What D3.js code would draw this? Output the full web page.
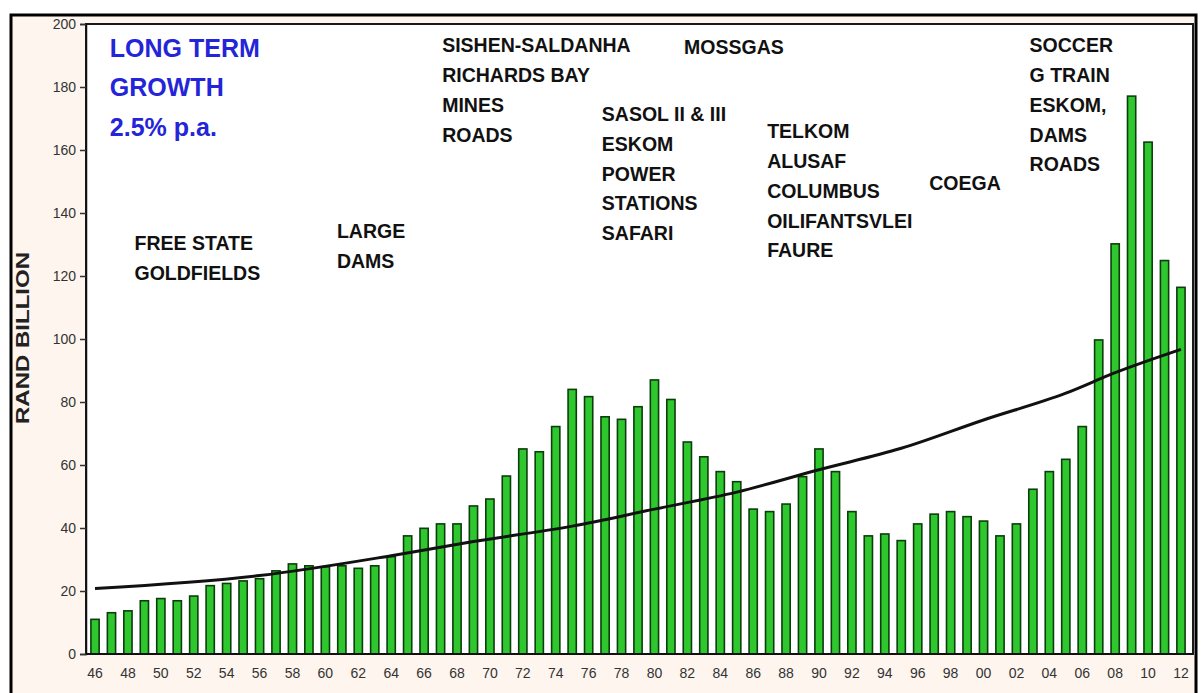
<!DOCTYPE html>
<html>
<head>
<meta charset="utf-8">
<script src="https://cdn.jsdelivr.net/npm/d3@7"></script>
<style>
  html, body { margin: 0; padding: 0; background: #fff; }
  svg { display: block; }
  text { font-family: 'Liberation Sans', Arial, sans-serif; }
</style>
</head>
<body>
<svg id="chart" width="1201" height="693"></svg>
<script>
// categories: one bar per year, 1946 - 2012
const years = [1946, 1947, 1948, 1949, 1950, 1951, 1952, 1953, 1954, 1955, 1956, 1957, 1958, 1959,
  1960, 1961, 1962, 1963, 1964, 1965, 1966, 1967, 1968, 1969, 1970, 1971, 1972, 1973, 1974, 1975,
  1976, 1977, 1978, 1979, 1980, 1981, 1982, 1983, 1984, 1985, 1986, 1987, 1988, 1989, 1990, 1991,
  1992, 1993, 1994, 1995, 1996, 1997, 1998, 1999, 2000, 2001, 2002, 2003, 2004, 2005, 2006, 2007,
  2008, 2009, 2010, 2011, 2012]

// investment, rand billion
const investment = [11.0, 13.1, 13.7, 16.9, 17.6, 16.9, 18.4, 21.7, 22.4, 23.2, 23.9, 26.4, 28.6, 28.0,
  27.7, 28.0, 27.2, 28.0, 30.9, 37.5, 39.9, 41.3, 41.3, 47.0, 49.2, 56.5, 65.1, 64.2, 72.2, 84.0,
  81.7, 75.3, 74.5, 78.5, 87.0, 80.8, 67.3, 62.6, 57.9, 54.7, 46.0, 45.2, 47.6, 56.3, 65.1, 57.9,
  45.2, 37.5, 38.1, 36.0, 41.3, 44.4, 45.2, 43.6, 42.2, 37.5, 41.3, 52.3, 57.9, 61.8, 72.2, 99.7,
  130.2, 177.1, 162.5, 124.9, 116.4]

// long term growth line
const trendYears = [1946, 1956, 1964, 1969, 1975, 1980, 1985, 1990, 1995, 2000, 2005, 2008, 2012]
const trendValues = [20.8, 24.9, 31.2, 35.7, 40.6, 46.0, 51.4, 58.5, 65.3, 74.3, 82.8, 89.3, 96.7]

const yTicks = [0, 20, 40, 60, 80, 100, 120, 140, 160, 180, 200]
const xLabels = ['46', '48', '50', '52', '54', '56', '58', '60', '62', '64', '66', '68', '70', '72',
  '74', '76', '78', '80', '82', '84', '86', '88', '90', '92', '94', '96', '98', '00', '02', '04',
  '06', '08', '10', '12']
const xLabelYears = years.filter((y) => (y - 1946) % 2 === 0)

// project labels, anchored at (year, value) of their first line
const projectLines = [
  ['FREE STATE', 'GOLDFIELDS'],
  ['LARGE', 'DAMS'],
  ['SISHEN-SALDANHA', 'RICHARDS BAY', 'MINES', 'ROADS'],
  ['MOSSGAS'],
  ['SASOL II & III', 'ESKOM', 'POWER', 'STATIONS', 'SAFARI'],
  ['TELKOM', 'ALUSAF', 'COLUMBUS', 'OILIFANTSVLEI', 'FAURE'],
  ['COEGA'],
  ['SOCCER', 'G TRAIN', 'ESKOM,', 'DAMS', 'ROADS']
]
const projectYears = [1948.4, 1960.7, 1967.1, 1981.8, 1976.8, 1986.85, 1996.7, 2002.8]
const projectValues = [130.5, 134.3, 193.3, 192.7, 171.4, 166.0, 149.5, 193.3]

const growthLines = ['LONG TERM', 'GROWTH', '2.5% p.a.']

const svg = d3.select('#chart')
const plot = { left: 86, right: 1193, top: 24, bottom: 654 }

const x = d3.scaleBand().domain(years).range([86.8, 1189.2]).paddingInner(0.5).paddingOuter(0.25)
const xYear = d3.scaleLinear().domain([1946, 2012])
  .range([x(1946) + x.bandwidth() / 2, x(2012) + x.bandwidth() / 2])
const y = d3.scaleLinear().domain([0, 200]).range([plot.bottom, plot.top])

// outer frame
svg.append('rect')
  .attr('x', 11).attr('y', 15).attr('width', 1185).attr('height', 700)
  .style('fill', '#fdf5ee').style('stroke', '#000').style('stroke-width', 3)

// plot area
svg.append('rect')
  .attr('x', plot.left).attr('y', plot.top)
  .attr('width', plot.right - plot.left).attr('height', plot.bottom - plot.top)
  .style('fill', '#fff').style('stroke', '#1a1a1a').style('stroke-width', 2)

// y axis
const yAxis = svg.append('g')
  .attr('transform', `translate(${plot.left},0)`)
  .call(d3.axisLeft(y).tickValues(yTicks).tickSize(6).tickPadding(4))
yAxis.select('.domain').style('stroke', '#111').style('stroke-width', 1.5)
yAxis.selectAll('.tick line').style('stroke', '#333').style('stroke-width', 1.5)
yAxis.selectAll('.tick text')
  .style('font-family', "'Liberation Sans', Arial, sans-serif")
  .style('font-size', '14px').style('fill', '#333')

svg.append('text')
  .attr('transform', 'translate(29,338) rotate(-90)')
  .attr('text-anchor', 'middle')
  .attr('textLength', 172).attr('lengthAdjust', 'spacingAndGlyphs')
  .style('font-size', '18px').style('font-weight', 'bold').style('fill', '#222')
  .text('RAND BILLION')

// x labels
svg.append('g').selectAll('text')
  .data(xLabelYears).enter().append('text')
  .attr('x', (d) => x(d) + x.bandwidth() / 2)
  .attr('y', 678)
  .attr('text-anchor', 'middle')
  .style('font-size', '14px').style('fill', '#333')
  .text((_, i) => xLabels[i])

// bars
svg.append('g').selectAll('rect')
  .data(years).enter().append('rect')
  .attr('x', (d) => x(d))
  .attr('width', x.bandwidth())
  .attr('y', (_, i) => y(investment[i]))
  .attr('height', (_, i) => y(0) - y(investment[i]))
  .style('fill', '#2ec82e').style('stroke', '#0d3d0d').style('stroke-width', 1.6)

// baseline
svg.append('line')
  .attr('x1', plot.left).attr('x2', plot.right)
  .attr('y1', y(0)).attr('y2', y(0))
  .style('stroke', '#111').style('stroke-width', 2)

// trend line
const line = d3.line()
  .x((d) => xYear(d[0]))
  .y((d) => y(d[1]))
  .curve(d3.curveMonotoneX)
svg.append('path')
  .datum(trendYears.map((yr, i) => [yr, trendValues[i]]))
  .attr('d', line)
  .style('fill', 'none').style('stroke', '#111').style('stroke-width', 3)

// project annotations
const gNotes = svg.append('g')
projectLines.forEach((lines, k) => {
  const t = gNotes.append('text')
    .attr('x', xYear(projectYears[k]))
    .attr('y', y(projectValues[k]) + 7)
    .style('font-size', '19.5px').style('font-weight', 'bold').style('fill', '#111')
  t.selectAll('tspan').data(lines).enter().append('tspan')
    .attr('x', xYear(projectYears[k]))
    .attr('dy', (_, i) => i === 0 ? 0 : 29.8)
    .text((d) => d)
})

// growth note
const gt = svg.append('text')
  .attr('x', xYear(1946.9))
  .attr('y', y(192.4) + 9)
  .style('font-size', '25px').style('font-weight', 'bold').style('fill', '#2424d8')
gt.selectAll('tspan').data(growthLines).enter().append('tspan')
  .attr('x', xYear(1946.9))
  .attr('dy', (_, i) => i === 0 ? 0 : 39.5)
  .text((d) => d)
</script>
</body>
</html>
